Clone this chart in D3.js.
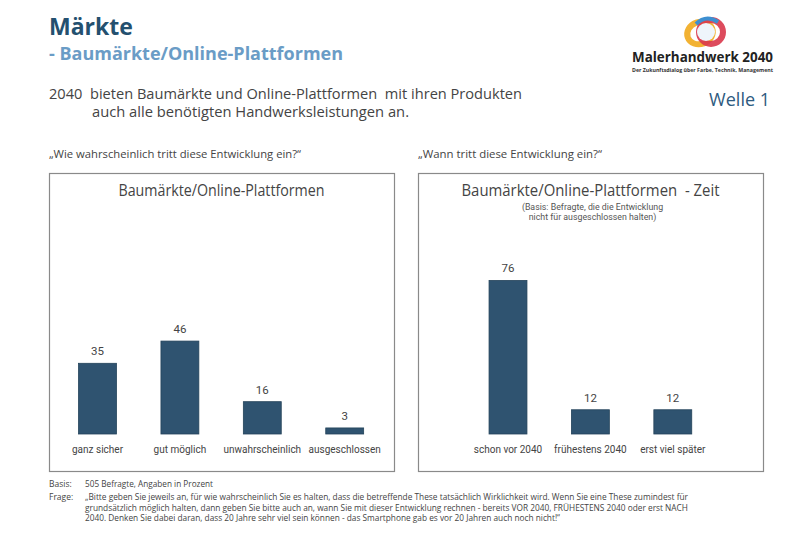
<!DOCTYPE html>
<html><head><meta charset="utf-8">
<script src="https://cdn.jsdelivr.net/npm/d3@7"></script>
<style>
body{margin:0;background:#fff;}
svg{display:block;font-family:"Open Sans",sans-serif;}
text{white-space:pre;}
</style></head>
<body><svg id="c" width="800" height="554"></svg>
<script>
const leftCategories = ["ganz sicher","gut möglich","unwahrscheinlich","ausgeschlossen"];
const leftValues = [35,46,16,3];
const rightCategories = ["schon vor 2040","frühestens 2040","erst viel später"];
const rightValues = [76,12,12];

const svg = d3.select("#c");
const barColor = "#2f5370";

// Header
svg.append("text").attr("x",49).attr("y",35).attr("font-size",23).attr("font-weight",700)
  .attr("fill","#24506f").text("Märkte");
svg.append("text").attr("x",49).attr("y",60).attr("font-size",18.5).attr("font-weight",700)
  .attr("fill","#6a9cc6").attr("textLength",294).attr("lengthAdjust","spacingAndGlyphs")
  .text("- Baumärkte/Online-Plattformen");
svg.append("text").attr("x",49).attr("y",99).attr("font-size",14.5).attr("fill","#444")
  .attr("textLength",473).attr("lengthAdjust","spacingAndGlyphs")
  .text("2040  bieten Baumärkte und Online-Plattformen  mit ihren Produkten");
svg.append("text").attr("x",92).attr("y",117).attr("font-size",14.5).attr("fill","#444")
  .attr("textLength",317).attr("lengthAdjust","spacingAndGlyphs")
  .text("auch alle benötigten Handwerksleistungen an.");
svg.append("text").attr("x",770).attr("y",106).attr("text-anchor","end").attr("font-size",18)
  .attr("fill","#2d5a80").text("Welle 1");

// Logo
const lg = svg.append("g");
lg.append("ellipse").attr("cx",700).attr("cy",33).attr("rx",13).attr("ry",11).attr("fill","none")
  .attr("stroke","#f2b233").attr("stroke-width",6).attr("transform","rotate(-20,700,33)");
lg.append("ellipse").attr("cx",711).attr("cy",32).attr("rx",12).attr("ry",12).attr("fill","none")
  .attr("stroke","#d9374b").attr("stroke-width",6).attr("opacity",0.9);
lg.append("path").attr("d","M696,24 Q706,14 718,22").attr("fill","none").attr("stroke","#3d8fd1").attr("stroke-width",4);
lg.append("ellipse").attr("cx",706).attr("cy",32).attr("rx",9).attr("ry",9).attr("fill","#eef5fb");
svg.append("text").attr("x",632).attr("y",62).attr("font-size",13.5).attr("font-weight",700)
  .attr("fill","#222").attr("textLength",141).attr("lengthAdjust","spacingAndGlyphs").text("Malerhandwerk 2040");
svg.append("text").attr("x",632).attr("y",71.5).attr("font-size",5).attr("font-weight",700)
  .attr("fill","#333").attr("textLength",141).attr("lengthAdjust","spacingAndGlyphs")
  .text("Der Zukunftsdialog über Farbe, Technik, Management");

// Panel questions
svg.append("text").attr("x",49).attr("y",158).attr("font-size",11.5).attr("fill","#444")
  .attr("textLength",252).attr("lengthAdjust","spacingAndGlyphs")
  .text("„Wie wahrscheinlich tritt diese Entwicklung ein?“");
svg.append("text").attr("x",418).attr("y",158).attr("font-size",11.5).attr("fill","#444")
  .attr("textLength",184).attr("lengthAdjust","spacingAndGlyphs")
  .text("„Wann tritt diese Entwicklung ein?“");

const y = d3.scaleLinear().domain([0,100]).range([434,232]);

function panel(x0,x1,title,titleW,cats,vals,firstCenter,sub){
  svg.append("rect").attr("x",x0+0.5).attr("y",173.5).attr("width",x1-x0).attr("height",298)
    .attr("fill","none").attr("stroke","#8a8a8a").attr("stroke-width",1.2);
  svg.append("text").attr("x",(x0+x1)/2).attr("y",196).attr("text-anchor","middle").attr("font-size",16)
    .attr("fill","#444").attr("textLength",titleW).attr("lengthAdjust","spacingAndGlyphs").text(title);
  if(sub){
    sub.forEach((s,i)=>svg.append("text").attr("x",(x0+x1)/2+2).attr("y",210+i*10).attr("text-anchor","middle")
      .attr("font-size",8.8).attr("fill","#555").attr("font-family","Roboto, sans-serif").text(s));
  }
  const step = 82.4;
  const x = d3.scaleBand().domain(cats).range([firstCenter-step/2, firstCenter-step/2+step*cats.length])
    .paddingInner(0.54).paddingOuter(0.27);
  const g = svg.append("g");
  g.selectAll("rect.bar").data(vals).join("rect").attr("class","bar")
    .attr("x",(d,i)=>x(cats[i])).attr("width",x.bandwidth())
    .attr("y",d=>y(d)).attr("height",d=>y(0)-y(d))
    .attr("fill",barColor).attr("stroke","#24435a").attr("stroke-width",0.8);
  g.selectAll("text.val").data(vals).join("text").attr("class","val")
    .attr("x",(d,i)=>x(cats[i])+x.bandwidth()/2).attr("y",d=>y(d)-8)
    .attr("text-anchor","middle").attr("font-size",11.5).attr("fill","#444").attr("font-family","Roboto, sans-serif").text(d=>d);
  const ax = d3.axisBottom(x).tickSize(0).tickPadding(0);
  const a = g.append("g").attr("transform","translate(0,453)").call(ax);
  a.select(".domain").remove();
  a.selectAll("text").attr("font-size",10).attr("fill","#444").attr("font-family","Roboto, sans-serif").attr("dy",0);
}
panel(49,394,"Baumärkte/Online-Plattformen",206,leftCategories,leftValues,97.5,null);
panel(418,763,"Baumärkte/Online-Plattformen  - Zeit",258,rightCategories,rightValues,508,
  ["(Basis: Befragte, die die Entwicklung","nicht für ausgeschlossen halten)"]);

// Footnotes
const fn = svg.append("g").attr("font-size",8.5).attr("fill","#444");
fn.append("text").attr("x",49).attr("y",487).text("Basis:");
fn.append("text").attr("x",85).attr("y",487).attr("textLength",128).attr("lengthAdjust","spacingAndGlyphs").text("505 Befragte, Angaben in Prozent");
fn.append("text").attr("x",49).attr("y",500).text("Frage:");
const lines = [
 ["„Bitte geben Sie jeweils an, für wie wahrscheinlich Sie es halten, dass die betreffende These tatsächlich Wirklichkeit wird. Wenn Sie eine These zumindest für",603],
 ["grundsätzlich möglich halten, dann geben Sie bitte auch an, wann Sie mit dieser Entwicklung rechnen - bereits VOR 2040, FRÜHESTENS 2040 oder erst NACH",603],
 ["2040. Denken Sie dabei daran, dass 20 Jahre sehr viel sein können - das Smartphone gab es vor 20 Jahren auch noch nicht!“",475]
];
lines.forEach((l,i)=>fn.append("text").attr("x",85).attr("y",500+i*10.5).attr("textLength",l[1]).attr("lengthAdjust","spacingAndGlyphs").text(l[0]));
</script></body></html>
